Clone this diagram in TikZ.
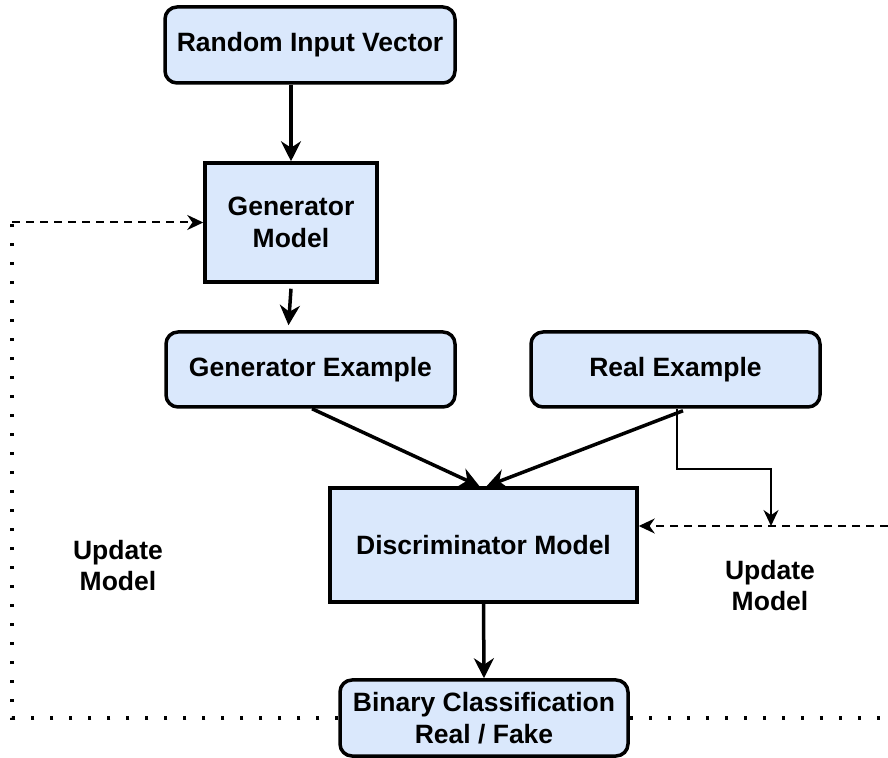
\documentclass[tikz,border=0pt]{standalone}
\usepackage{fontspec}
\setmainfont{Liberation Sans}
\usetikzlibrary{arrows.meta}

\definecolor{boxblue}{HTML}{DAE8FC}

\tikzset{
  roundbox/.style={draw=black, line width=3.5pt, fill=boxblue, rounded corners=12pt,
    inner sep=0pt, align=center, font=\bfseries\fontsize{26.5}{32}\selectfont},
  squarebox/.style={roundbox, sharp corners},
  updlabel/.style={align=center, inner sep=0pt, font=\bfseries\fontsize{26.5}{31}\selectfont},
  flow/.style={line width=3.5pt, -{Stealth[length=20pt,width=20pt]}},
  thinflow/.style={line width=1.6pt, -{Stealth[length=16pt,width=15pt]}},
  upddash/.style={line width=2pt, dash pattern=on 8pt off 6pt, -{Stealth[length=16pt,width=15pt]}},
  loopdots/.style={line width=3.5pt, dash pattern=on 3.5pt off 15.5pt}
}

\begin{document}
\begin{tikzpicture}[x=1pt,y=1pt]

% ---------- Parameter ----------
\def\W{888}
\def\H{757}
\def\loopx{12}   % linke Kante der Rueckfuehrung
\def\loopy{39}   % Hoehe der gepunkteten Linie unten

\useasboundingbox (0,0) rectangle (\W,\H);

% ===================
% Bloecke
% ===================
\node[roundbox, minimum width=290pt, minimum height=76pt] (rand) at (310,712) {Random Input Vector};
\node[squarebox, minimum width=172pt, minimum height=119pt] (gen) at (291,534.5) {Generator\\Model};
\node[roundbox, minimum width=289pt, minimum height=75pt] (genex) at (310.5,387.5) {Generator Example};
\node[roundbox, minimum width=289pt, minimum height=75pt] (realex) at (675.5,387.5) {Real Example};
\node[squarebox, minimum width=307pt, minimum height=114pt] (disc) at (483.5,212) {Discriminator Model};
\node[roundbox, minimum width=288pt, minimum height=76pt] (bin) at (484,\loopy) {Binary Classification\\Real / Fake};

\node[updlabel] (updleft) at (118,191) {Update\\Model};
\node[updlabel] (updright) at (770,171) {Update\\Model};

% ===================
% Verbindungen
% ===================
\draw[flow] (gen.north |- rand.south) -- (gen.north);
\draw[flow] ([yshift=-5pt]gen.south) -- ([xshift=-22pt,yshift=5pt]genex.north);
\draw[flow] ([xshift=1.5pt]genex.south) -- ([xshift=-4pt]disc.north);
\draw[flow] ([xshift=7.5pt,yshift=-2pt]realex.south) -- ([xshift=3pt]disc.north);
\draw[flow] (disc.south) -- (bin.north);

% Update Diskriminator (rechts)
\coordinate (updpt) at (771,231);
\draw[upddash] (\W,231) -- (disc.east |- updpt);
\draw[thinflow] ([xshift=1.5pt]realex.south) -- ++(0,-60) -| (updpt);

% Update Generator (links, gepunktet)
\coordinate (looptop) at (\loopx,534.5);
\draw[loopdots] (bin.west) -- (\loopx,\loopy) -- (looptop);
\draw[loopdots] (bin.east) -- (\W,\loopy);
\draw[upddash] (looptop) -- (gen.west);

\end{tikzpicture}
\end{document}
